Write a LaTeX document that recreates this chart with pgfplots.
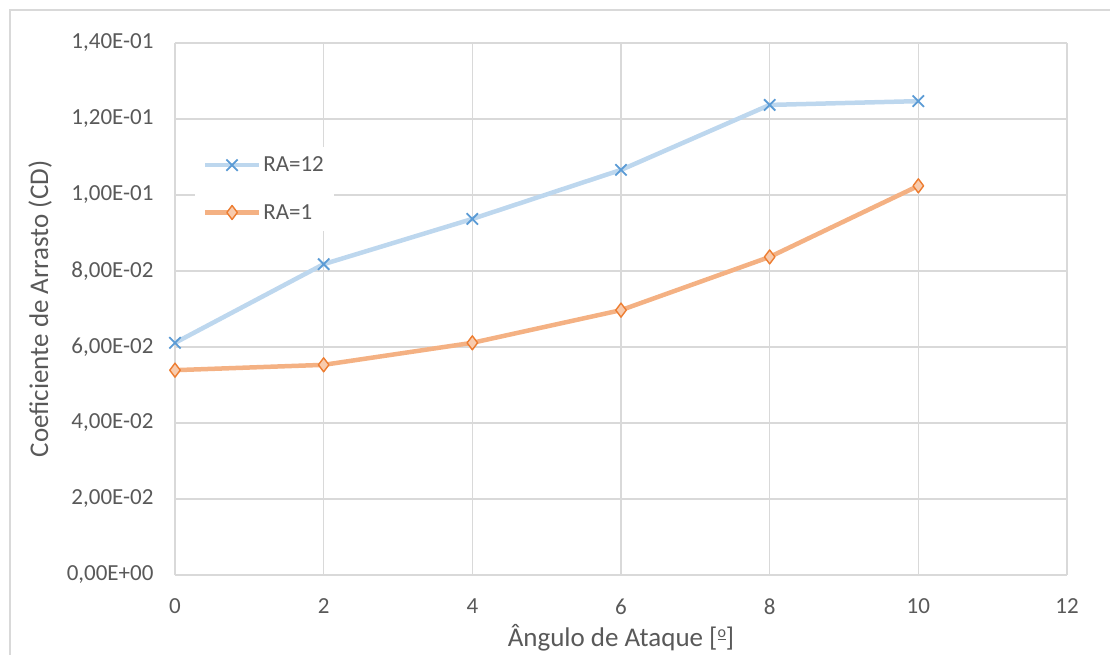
\documentclass[border=0pt]{standalone}
\usepackage{pgfplots}
\pgfplotsset{compat=1.18}
\usepackage{fontspec}
\setmainfont{Carlito}
\definecolor{txt}{HTML}{595959}
\definecolor{grd}{HTML}{D9D9D9}
\definecolor{bline}{HTML}{BDD7EE}
\definecolor{bmark}{HTML}{5B9BD5}
\definecolor{oline}{HTML}{F4B183}
\definecolor{omark}{HTML}{ED7D31}
\definecolor{ofill}{HTML}{F8CBAD}
\begin{document}
\begin{tikzpicture}
\begin{axis}[
  name=ax,
  scale only axis,
  width=892pt, height=532pt,
  xmin=0, xmax=12, ymin=0, ymax=0.14,
  xtick={0,2,...,12},
  ytick={0,0.02,0.04,0.06,0.08,0.10,0.12,0.14},
  yticklabels={{0,00E+00},{2,00E-02},{4,00E-02},{6,00E-02},{8,00E-02},{1,00E-01},{1,20E-01},{1,40E-01}},
  /pgf/number format/assume math mode=true,
  grid=major,
  major grid style={grd, line width=1.3pt},
  axis line style={draw=none},
  major tick length=0pt,
  tick label style={font=\fontsize{23}{26}\selectfont, text=txt},
  yticklabel style={xshift=-18pt},
  xticklabel style={yshift=-20pt},
  xlabel={Ângulo de Ataque [\raisebox{0.32em}{\fontsize{16}{16}\selectfont\underline{o}}]},
  ylabel={Coeficiente de Arrasto (CD)},
  label style={font=\fontsize{27}{30}\selectfont, text=txt},
  xlabel style={yshift=-3pt},
  ylabel style={yshift=8pt},
  legend style={at={(0.022,0.805)}, anchor=north west, draw=none, fill=white,
    font=\fontsize{23}{26}\selectfont, text=txt, row sep=27pt, inner xsep=8pt, inner ysep=8pt},
  legend cell align=left,
  legend image code/.code={\draw[mark repeat=2,mark phase=2,#1] plot coordinates {(0pt,0pt)(27pt,0pt)(54pt,0pt)};},
]
\addplot[bline, line width=4.5pt, line join=round, mark=x, mark size=8pt,
  mark options={bmark, line width=1.8pt}] coordinates {
  (0,0.0611) (2,0.0818) (4,0.0937) (6,0.1066) (8,0.1237) (10,0.1247)};
\addlegendentry{RA=12}
\addplot[oline, line width=4.5pt, line join=round, mark=diamond*, mark size=7pt,
  mark options={draw=omark, fill=ofill, line width=1.4pt}] coordinates {
  (0,0.0539) (2,0.0553) (4,0.0611) (6,0.0697) (8,0.0837) (10,0.1024)};
\addlegendentry{RA=1}
\end{axis}
\path[use as bounding box] ([xshift=-175pt,yshift=-75pt]ax.south west) rectangle ([xshift=43pt,yshift=43pt]ax.north east);
\draw[grd, line width=1.2pt] ([xshift=-165pt,yshift=-80pt]ax.south west) -- ([xshift=-165pt,yshift=33pt]ax.north west) -- ([xshift=50pt,yshift=33pt]ax.north east);
\end{tikzpicture}
\end{document}
